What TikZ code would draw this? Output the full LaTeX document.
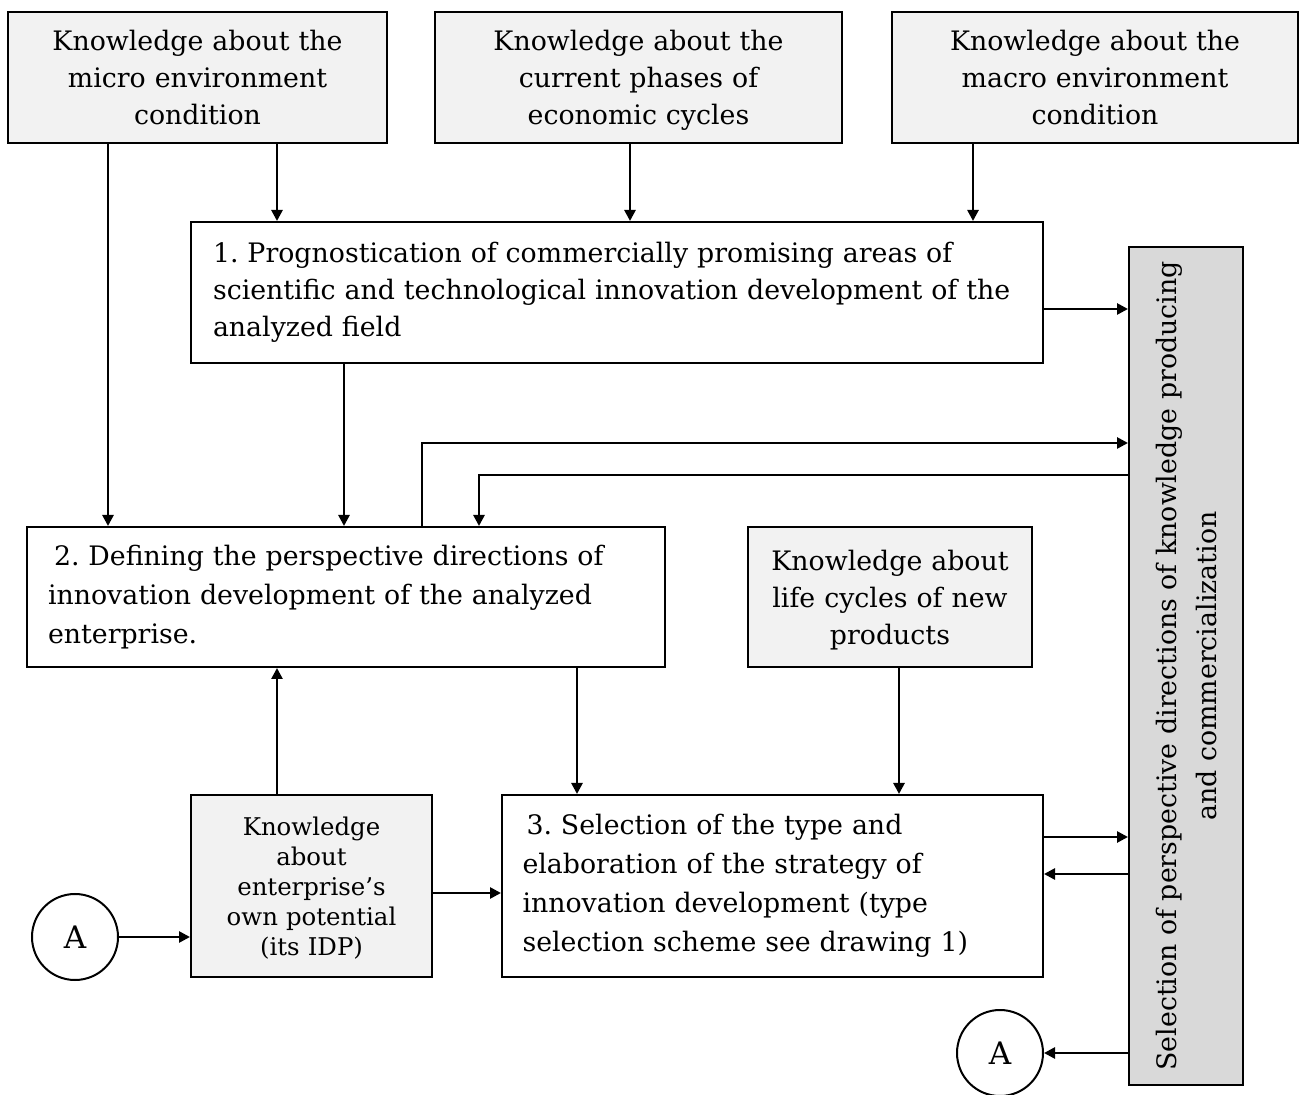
\documentclass[tikz,border=0pt]{standalone}
\usepackage{fontspec}
\setmainfont{DejaVu Serif}
\usetikzlibrary{arrows.meta, positioning}
\frenchspacing

\begin{document}
\begin{tikzpicture}[
  x=0.5pt, y=-0.5pt,
  box/.style={draw, line width=1pt, inner sep=0pt, font=\fontsize{13.4}{18.5}\selectfont},
  know/.style={box, fill=gray!10, align=center},
  stage/.style={box, align=left},
  link/.style={draw, circle, line width=1pt, minimum size=43pt, inner sep=0pt, font=\fontsize{15.5}{18.5}\selectfont},
  arrow/.style={-{Triangle[length=5.5pt,width=5.5pt]}, line width=1.3pt}
]
\useasboundingbox (0,0) rectangle (1301,1095);

% Nodes
\node[know, minimum width=189.5pt, minimum height=65.5pt, text width=180pt] (micro) at (197.5,77.5) {Knowledge about the\\ micro environment\\ condition};
\node[know, minimum width=203.5pt, minimum height=65.5pt, text width=190pt] (cycles) at (638.5,77.5) {Knowledge about the\\ current phases of\\ \smash{economic cycles}};
\node[know, minimum width=203pt, minimum height=65.5pt, text width=190pt] (macro) at (1095,77.5) {Knowledge about the\\ macro environment\\ condition};
\node[stage, minimum width=426pt, minimum height=70.5pt, text width=404pt] (prog) at (617,292.5) {1. Prognostication of commercially promising areas of\\ scientific and technological innovation development of the\\ analyzed field};
\node[box, fill=gray!30, rotate=90, align=center, minimum width=419pt, minimum height=57pt, font=\fontsize{13.4}{20}\selectfont] (select) at (1186,666) {Selection of perspective directions of knowledge producing\\ and commercialization};
\node[stage, minimum width=319pt, minimum height=70pt, text width=298pt, font=\fontsize{13.4}{19.5}\selectfont] (defin) at (346,597) {\hspace*{3pt}2. Defining the perspective directions of\\ innovation development of the analyzed\\ enterprise.};
\node[know, minimum width=142pt, minimum height=70pt, text width=136pt] (life) at (890,597) {Knowledge about\\ life cycles of new\\ \smash{products}};
\node[know, minimum width=120.5pt, minimum height=91pt, text width=116pt, font=\fontsize{12.2}{15}\selectfont] (own) at (311.5,886) {Knowledge\\ about\\ enterprise’s\\ own potential\\ \smash{(its IDP)}};
\node[stage, minimum width=270.5pt, minimum height=91pt, text width=250pt, font=\fontsize{13.4}{19.5}\selectfont] (strat) at (772.5,886) {\hspace*{2pt}3. Selection of the type and\\ elaboration of the strategy of\\ innovation development (type\\ selection scheme see drawing 1)};
\node[link] (linkin) at (75,937) {A};
\node[link] (linkout) at (1000,1053) {A};

% Pointers
\draw[arrow] (micro.south -| 108,0) -- (defin.north -| 108,0);
\draw[arrow] (micro.south -| 277,0) -- (prog.north -| 277,0);
\draw[arrow] (cycles.south -| 630,0) -- (prog.north -| 630,0);
\draw[arrow] (macro.south -| 973,0) -- (prog.north -| 973,0);
\draw[arrow] (prog.east |- 0,309) -- (select.north |- 0,309);
\draw[arrow] (prog.south -| 344,0) -- (defin.north -| 344,0);
\draw[arrow] (defin.north -| 422,0) |- (select.north |- 0,443);
\draw[arrow] (select.north |- 0,475) -| (defin.north -| 479,0);
\draw[arrow] (defin.south -| 577,0) -- (strat.north -| 577,0);
\draw[arrow] (life.south -| 899,0) -- (strat.north -| 899,0);
\draw[arrow] (own.north -| 277,0) -- (defin.south -| 277,0);
\draw[arrow] (own.east |- 0,893) -- (strat.west |- 0,893);
\draw[arrow] (linkin.east) -- (own.west |- linkin.east);
\draw[arrow] (strat.east |- 0,837) -- (select.north |- 0,837);
\draw[arrow] (select.north |- 0,874) -- (strat.east |- 0,874);
\draw[arrow] (select.north |- linkout) -- (linkout.east);
\end{tikzpicture}
\end{document}
